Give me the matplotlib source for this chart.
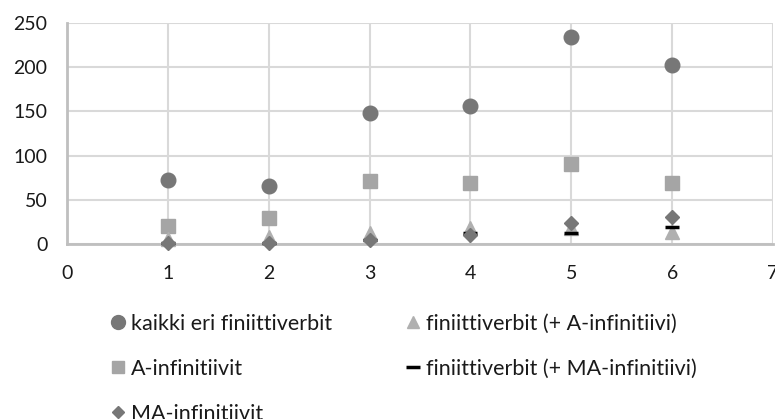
import matplotlib
matplotlib.use("Agg")
import matplotlib.pyplot as plt
from matplotlib.lines import Line2D

plt.rcParams['font.family'] = ['Lato', 'DejaVu Sans']

x = [1, 2, 3, 4, 5, 6]
kaikki = [72, 66, 148, 156, 234, 202]
a_inf = [20, 29, 71, 69, 90, 69]
fin_a = [6, 8, 12, 18, 18, 14]
fin_ma = [1, 1, 5, 13, 12, 19]
ma_inf = [1, 1, 5, 10, 24, 30]

labels = ["kaikki eri finiittiverbit", "A-infinitiivit", "MA-infinitiivit",
          "finiittiverbit (+ A-infinitiivi)", "finiittiverbit (+ MA-infinitiivi)"]
xticks = [0, 1, 2, 3, 4, 5, 6, 7]
yticks = [0, 50, 100, 150, 200, 250]

fig = plt.figure(figsize=(7.75, 4.19), dpi=100)
ax = fig.add_axes([67/775, 1-244/419, (773-67)/775, (244-23)/419])

c_circ = '#777777'
c_sq = '#a5a5a5'
c_tri = '#b0b0b0'
c_dia = '#777777'

ax.plot(x, kaikki, 'o', color=c_circ, ms=10.5, ls='none', zorder=3, clip_on=False)
ax.plot(x, a_inf, 's', color=c_sq, ms=10, ls='none', zorder=3, clip_on=False)
ax.plot(x, fin_a, '^', color=c_tri, ms=10, ls='none', zorder=3, clip_on=False)
ax.plot(x, fin_ma, '_', color='black', ms=10, mew=2.5, ls='none', zorder=4, clip_on=False)
ax.plot(x, ma_inf, 'D', color=c_dia, ms=7, ls='none', zorder=5, clip_on=False)

ax.set_xlim(0, 7)
ax.set_ylim(0, 250)
ax.set_xticks(xticks)
ax.set_yticks(yticks)
ax.grid(True, color='#d9d9d9', lw=1.5)
ax.set_axisbelow(True)
for s in ['top', 'right']:
    ax.spines[s].set_visible(False)
for s in ['left', 'bottom']:
    ax.spines[s].set_color('#bfbfbf')
    ax.spines[s].set_linewidth(2)
ax.tick_params(length=0, labelsize=14, colors='#1a1a1a')
ax.tick_params(axis='x', pad=15)
ax.tick_params(axis='y', pad=14)

handles = [
    Line2D([], [], marker='o', color=c_circ, ls='none', ms=10),
    Line2D([], [], marker='s', color=c_sq, ls='none', ms=9),
    Line2D([], [], marker='D', color=c_dia, ls='none', ms=6),
    Line2D([], [], marker='^', color=c_tri, ls='none', ms=8),
    Line2D([], [], marker='_', color='black', ls='none', ms=10, mew=2.5),
]
fig.legend(handles, labels, ncol=2, loc='upper left', bbox_to_anchor=(112/775, 1-314/419),
           frameon=False, fontsize=15.5, handlelength=0.6, handletextpad=0.3,
           columnspacing=3.45, labelspacing=1.15, borderaxespad=0, borderpad=0,
           labelcolor='#1a1a1a')

fig.savefig('out.png', dpi=100)
